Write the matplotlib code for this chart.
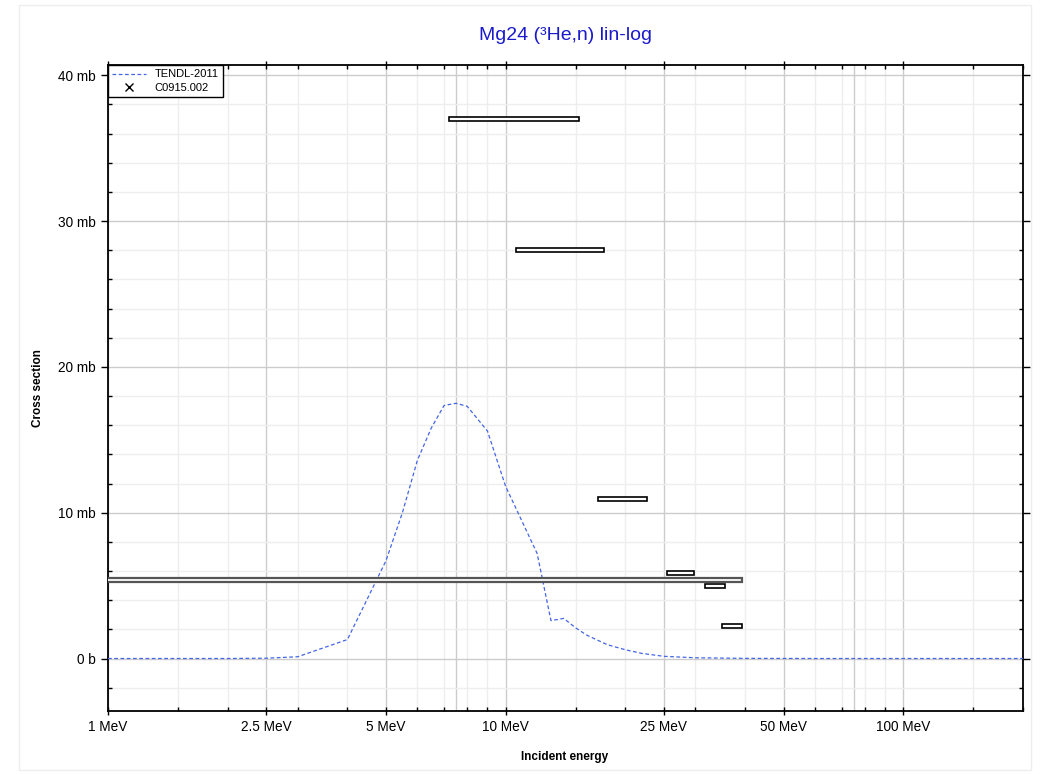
import numpy as np
import matplotlib
matplotlib.use("Agg")
import matplotlib.pyplot as plt
from matplotlib.patches import Rectangle
from matplotlib.ticker import FixedLocator, NullFormatter

plt.rcParams['font.family'] = ['Liberation Sans', 'DejaVu Sans']

# TENDL-2011 evaluated curve (MeV, mb)
tendl_e = [1, 2, 2.5, 3, 4, 5, 5.5, 6, 6.5, 7, 7.5, 8, 9, 10, 11, 12, 13, 14, 15, 16, 18, 20, 22, 25, 30, 40, 60, 200]
tendl_xs = [0, 0, 0.02, 0.12, 1.3, 6.7, 10.0, 13.6, 15.8, 17.35, 17.5, 17.3, 15.6, 11.8, 9.4, 7.2, 2.6, 2.75, 2.1, 1.6, 0.95, 0.6, 0.35, 0.15, 0.05, 0.01, 0.0, 0.0]

# C0915.002 data: energy range (MeV) and cross section (mb)
exp_elo = [7.2, 10.6, 17.1, 25.4, 31.8, 35.1, 0.5]
exp_ehi = [15.3, 17.7, 22.7, 29.8, 35.7, 39.3, 39.3]
exp_xs = [37.0, 28.0, 10.95, 5.85, 4.96, 2.24, 5.36]
exp_dxs = [0.13, 0.13, 0.13, 0.13, 0.13, 0.13, 0.13]

xticks = [1, 2.5, 5, 10, 25, 50, 100]
xticklabels = ['1 MeV', '2.5 MeV', '5 MeV', '10 MeV', '25 MeV', '50 MeV', '100 MeV']
xgrid_extra = [7.5, 75]
xminor = [1.5, 2, 3, 4, 6, 7, 8, 9, 15, 20, 30, 40, 60, 70, 80, 90, 150, 200]
yticks = [0, 10, 20, 30, 40]
yticklabels = ['0 b', '10 mb', '20 mb', '30 mb', '40 mb']

fig = plt.figure(figsize=(10.49, 7.74), dpi=100)
fig.patches.append(Rectangle((19 / 1049, 1 - 770 / 774), 1012 / 1049, 765 / 774,
                             transform=fig.transFigure, fill=False,
                             edgecolor='#eeeeee', lw=1))
ax = fig.add_axes([108 / 1049, 1 - 711 / 774, 915 / 1049, 646 / 774])
ax.set_xscale('log')
ax.set_xlim(1, 200)
ax.set_ylim(-3.6, 40.7)

# grid
ax.xaxis.set_major_locator(FixedLocator(xticks))
ax.set_xticklabels(xticklabels)
ax.xaxis.set_minor_locator(FixedLocator(xminor))
ax.xaxis.set_minor_formatter(NullFormatter())
ax.set_yticks(yticks)
ax.set_yticklabels(yticklabels)
ax.set_yticks(np.arange(-2, 41, 2), minor=True)
ax.grid(which='major', color='#cccccc', lw=1)
ax.grid(which='minor', color='#eeeeee', lw=1)
for xv in xgrid_extra:
    ax.axvline(xv, color='#cccccc', lw=1, zorder=0.5)
ax.set_axisbelow(True)

ax.tick_params(which='major', direction='inout', length=6, labelsize=9.8, width=1,
               top=True, right=True)
ax.tick_params(which='minor', direction='in', length=3, width=1, top=True, right=True)
ax.tick_params(axis='y', which='major', direction='out', length=5)
for s in ax.spines.values():
    s.set_linewidth(1.3)

ax.plot(tendl_e, tendl_xs, color='#4466e6', lw=0.9, ls=(0, (3, 2)), label='TENDL-2011', zorder=3)

for i, (lo, hi, y, dy) in enumerate(zip(exp_elo, exp_ehi, exp_xs, exp_dxs)):
    last = i == len(exp_xs) - 1
    ax.barh(y, hi - lo, left=lo, height=2 * dy, facecolor='white',
            edgecolor='#555555' if last else 'black', lw=1.6 if last else 1.2, zorder=4)
ax.plot([], [], ls='none', marker='x', color='black', ms=6, label='C0915.002')

leg = ax.legend(loc='upper left', fontsize=8, frameon=True, fancybox=False,
                borderaxespad=0, handlelength=3, borderpad=0.4, labelspacing=0.3)
leg.get_frame().set_edgecolor('black')
leg.get_frame().set_linewidth(1)
leg.get_frame().set_alpha(1)

fig.text(565 / 1049, 1 - 35 / 774, 'Mg24 (\u00b3He,n) lin-log', ha='center', va='center',
         fontsize=14, color='#1a1acc')
fig.text(565 / 1049, 1 - 757 / 774, 'Incident energy', ha='center', va='center',
         fontsize=8.5, fontweight='bold')
fig.text(38 / 1049, 1 - 388 / 774, 'Cross section', ha='center', va='center',
         fontsize=8.5, fontweight='bold', rotation=90)

fig.savefig('out.png', dpi=100)
